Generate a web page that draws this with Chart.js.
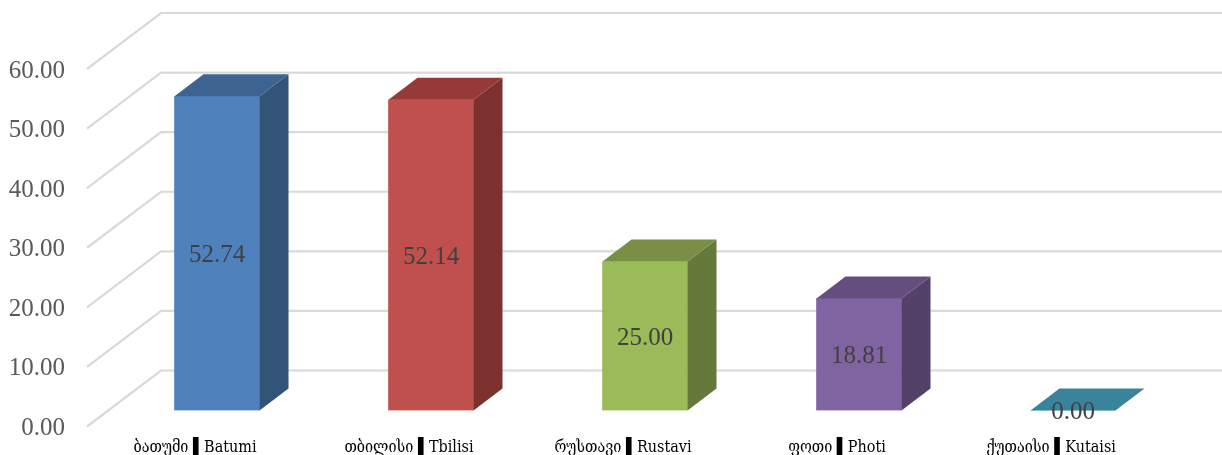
<!DOCTYPE html>
<html lang="en">
<head>
<meta charset="UTF-8">
<title>Cities</title>
<script src="https://cdn.jsdelivr.net/npm/chart.js"></script>
<style>
    html, body { margin: 0; padding: 0; background: #fff; }
    #wrap { width: 1222px; height: 455px; }
</style>
</head>
<body>
<div id="wrap"><canvas id="myChart" width="1222" height="455"></canvas></div>
<script>
const categories = ['ბათუმი ▌Batumi', 'თბილისი ▌Tbilisi', 'რუსთავი ▌Rustavi', 'ფოთი ▌Photi', 'ქუთაისი ▌Kutaisi'];
const values = [52.74, 52.14, 25.00, 18.81, 0.00];
const frontColors = ['#4F81BD', '#C0504D', '#9BBB59', '#8064A2', '#4BACC6'];
const topColors = ['#3D6391', '#953A38', '#788F45', '#644E7E', '#3A849B'];
const sideColors = ['#325479', '#7D312F', '#64793A', '#534169', '#31707F'];

// depth of the fake 3D box and of the floor/wall
const barDepth = { x: 29, y: 22 };
const wallDepth = { x: 74, y: 56 };
const wallFrontDrop = 16;
const wallFrontX = 87;

// gridlines run from the front edge up to the back wall, then right
const wallGrid = {
    id: 'wallGrid',
    beforeDatasetsDraw(chart) {
        const ctx = chart.ctx;
        const scale = chart.scales.y;
        ctx.save();
        ctx.strokeStyle = '#D9D9D9';
        ctx.lineWidth = 2.2;
        scale.ticks.forEach(t => {
            const y = scale.getPixelForValue(t.value) + wallFrontDrop;
            ctx.beginPath();
            ctx.moveTo(wallFrontX, y);
            ctx.lineTo(wallFrontX + wallDepth.x, y - wallDepth.y);
            ctx.lineTo(chart.width, y - wallDepth.y);
            ctx.stroke();
        });
        ctx.restore();
    }
};

// top and side faces of each bar, plus the value label
const boxFaces = {
    id: 'boxFaces',
    afterDatasetsDraw(chart) {
        const ctx = chart.ctx;
        const bars = chart.getDatasetMeta(0).data;
        ctx.save();
        bars.forEach((bar, i) => {
            const left = bar.x - bar.width / 2;
            const right = bar.x + bar.width / 2;
            ctx.fillStyle = sideColors[i];
            ctx.beginPath();
            ctx.moveTo(right, bar.y);
            ctx.lineTo(right + barDepth.x, bar.y - barDepth.y);
            ctx.lineTo(right + barDepth.x, bar.base - barDepth.y);
            ctx.lineTo(right, bar.base);
            ctx.closePath();
            ctx.fill();
            ctx.fillStyle = topColors[i];
            ctx.beginPath();
            ctx.moveTo(left, bar.y);
            ctx.lineTo(left + barDepth.x, bar.y - barDepth.y);
            ctx.lineTo(right + barDepth.x, bar.y - barDepth.y);
            ctx.lineTo(right, bar.y);
            ctx.closePath();
            ctx.fill();
        });
        ctx.fillStyle = '#404040';
        ctx.font = '25px "Liberation Serif"';
        ctx.textAlign = 'center';
        ctx.textBaseline = 'middle';
        bars.forEach((bar, i) => {
            ctx.fillText(values[i].toFixed(2), bar.x, (bar.y + bar.base) / 2 + 2);
        });
        ctx.restore();
    }
};

new Chart(document.getElementById('myChart'), {
    type: 'bar',
    data: {
        labels: categories,
        datasets: [{
            data: values,
            backgroundColor: frontColors,
            borderWidth: 0,
            barThickness: 85
        }]
    },
    options: {
        responsive: false,
        animation: false,
        layout: { padding: { top: 53, right: 42, bottom: 0, left: 0 } },
        plugins: { legend: { display: false }, tooltip: { enabled: false } },
        scales: {
            x: {
                grid: { display: false, drawTicks: false },
                border: { display: false },
                afterFit(scale) { scale.height = 44.5; scale.paddingLeft = 0; scale.paddingRight = 0; },
                ticks: {
                    maxRotation: 0,
                    autoSkip: false,
                    labelOffset: -22,
                    padding: 28,
                    color: '#000',
                    font: { family: '"DejaVu Serif Condensed", "DejaVu Sans Condensed", serif', size: 16 }
                }
            },
            y: {
                min: 0,
                max: 60,
                grid: { display: false, drawTicks: false },
                border: { display: false },
                afterFit(scale) { scale.width = 110; scale.paddingTop = 0; scale.paddingBottom = 0; },
                ticks: {
                    stepSize: 10,
                    padding: 45,
                    labelOffset: 18,
                    color: '#595959',
                    font: { family: '"Liberation Serif"', size: 25 },
                    callback: v => v.toFixed(2)
                }
            }
        }
    },
    plugins: [wallGrid, boxFaces]
});
</script>
</body>
</html>
